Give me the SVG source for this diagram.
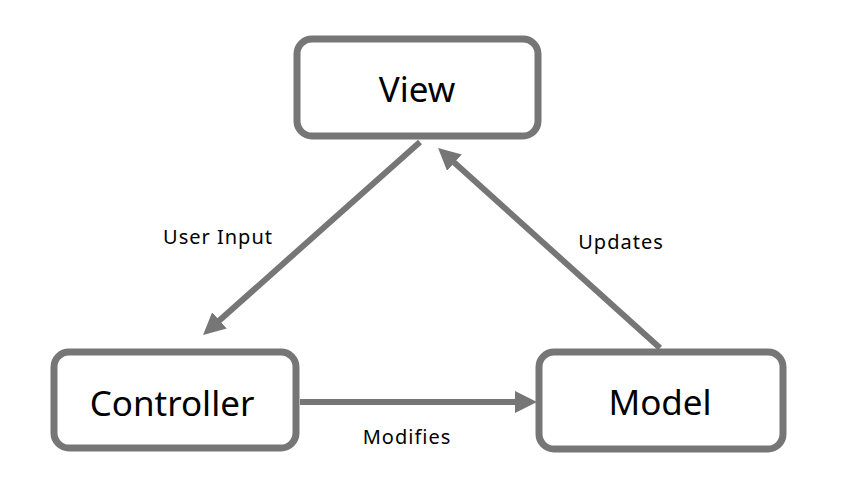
<svg xmlns="http://www.w3.org/2000/svg" width="841" height="479" viewBox="0 0 841 479">
<style>
.box{fill:#fff;stroke:#767676;stroke-width:7}
.lbl{font-family:"Noto Sans","Open Sans",sans-serif;fill:#000;text-anchor:middle}
.big{font-size:35px}
.small{font-size:20px;letter-spacing:1px}
.conn{stroke:#767676;stroke-width:6;fill:none}
</style>
<defs>
<marker id="ah" markerUnits="userSpaceOnUse" markerWidth="24" markerHeight="24" refX="10" refY="11" orient="auto">
<path d="M0,0 L22,11 L0,22 z" fill="#767676"/>
</marker>
</defs>
<rect width="841" height="479" fill="#fff"/>
<g id="connectors">
<line class="conn" x1="420" y1="142" x2="212" y2="327" marker-end="url(#ah)"/>
<line class="conn" x1="660" y1="348" x2="447" y2="156" marker-end="url(#ah)"/>
<line class="conn" x1="300" y1="402" x2="525" y2="402" marker-end="url(#ah)"/>
<text class="lbl small" x="218" y="244">User Input</text>
<text class="lbl small" x="621" y="249">Updates</text>
<text class="lbl small" x="407" y="444">Modifies</text>
</g>
<g id="view">
<rect class="box" x="297" y="39" width="241" height="97" rx="15"/>
<text class="lbl big" x="417" y="102">View</text>
</g>
<g id="controller">
<rect class="box" x="54" y="352" width="242" height="96" rx="15"/>
<text class="lbl big" x="172" y="416">Controller</text>
</g>
<g id="model">
<rect class="box" x="539" y="352" width="244" height="97" rx="15"/>
<text class="lbl big" x="660" y="415">Model</text>
</g>
</svg>
